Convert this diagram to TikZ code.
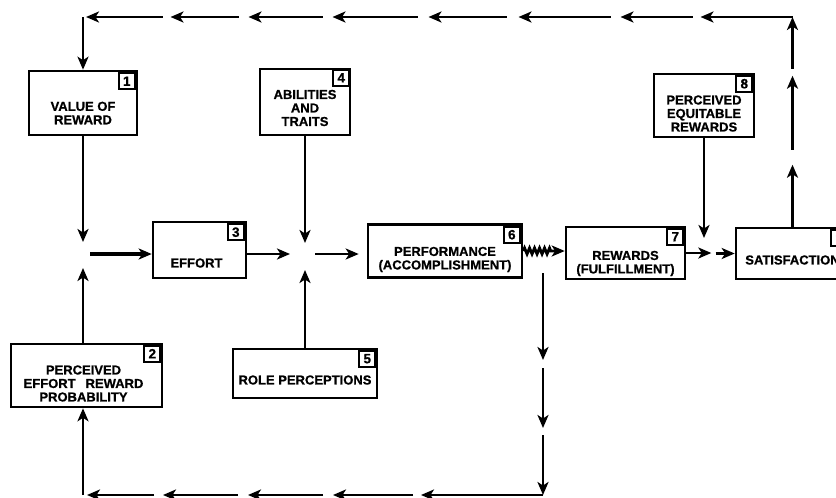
\documentclass[tikz,border=0pt]{standalone}
\usepackage{fontspec}
\setmainfont{Liberation Sans}
\newfontfamily\heavyfont{Liberation Sans}[UprightFont=*-Bold, FakeBold=0.8]
\usetikzlibrary{arrows.meta,positioning,calc,decorations.pathmorphing}

\tikzset{
  box/.style = {draw, line width=2.6pt, inner sep=0pt},
  num/.style = {draw, line width=2pt, inner sep=0pt, minimum width=16pt,
                minimum height=16pt, font=\fontsize{13.5}{13.5}\selectfont\heavyfont},
  lbl/.style = {align=center, inner sep=0pt, font=\fontsize{13}{13.5}\selectfont\heavyfont},
  arr/.style = {line width=2.8pt, -{Stealth[length=13pt,width=11pt,inset=3.5pt]}},
}

\begin{document}
\begin{tikzpicture}[x=1pt, y=-1pt]
	\path[use as bounding box, clip] (0,0) rectangle (836,498);

	% boxes
	\node[box, minimum width=108pt, minimum height=64pt] (b1) at (83,103) {};
	\node[num, below left=2.5pt and 2.5pt of b1.north east] (n1) {1};
	\node[lbl] (t1) at ([yshift=-10pt]b1.center) {VALUE OF\\REWARD};

	\node[box, minimum width=151pt, minimum height=63pt] (b2) at (86.5,375.5) {};
	\node[num, below left=2pt and 2pt of b2.north east] (n2) {2};
	\node[lbl] (t2) at ([xshift=-3pt,yshift=-8pt]b2.center) {PERCEIVED\\EFFORT\hspace{10pt}REWARD\\PROBABILITY};

	\node[box, minimum width=93pt, minimum height=56pt] (b3) at (199.5,250) {};
	\node[num, below left=2.5pt and 2.5pt of b3.north east] (n3) {3};
	\node[lbl] (t3) at ([xshift=-3pt,yshift=-13pt]b3.center) {EFFORT};

	\node[box, minimum width=90pt, minimum height=66pt] (b4) at (305,102) {};
	\node[num, below left=1pt and 1pt of b4.north east] (n4) {4};
	\node[lbl] (t4) at ([yshift=-6pt]b4.center) {ABILITIES\\AND\\TRAITS};

	\node[box, minimum width=144pt, minimum height=49pt] (b5) at (305,373.5) {};
	\node[num, below left=2pt and 2pt of b5.north east] (n5) {5};
	\node[lbl] (t5) at ([yshift=-6.5pt]b5.center) {ROLE PERCEPTIONS};

	\node[box, minimum width=154pt, minimum height=53pt] (b6) at (445,251) {};
	\node[num, below left=2.5pt and 2.5pt of b6.north east] (n6) {6};
	\node[lbl] (t6) at ([yshift=-8.5pt]b6.center) {PERFORMANCE\\(ACCOMPLISHMENT)};

	\node[box, minimum width=119pt, minimum height=52pt] (b7) at (625.5,253) {};
	\node[num, below left=2pt and 2pt of b7.north east] (n7) {7};
	\node[lbl] (t7) at ([yshift=-10.5pt]b7.center) {REWARDS\\(FULFILLMENT)};

	\node[box, minimum width=100pt, minimum height=63pt] (b8) at (704,105.5) {};
	\node[num, below left=2pt and 2pt of b8.north east] (n8) {8};
	\node[lbl] (t8) at ([yshift=-8pt]b8.center) {PERCEIVED\\EQUITABLE\\REWARDS};

	\node[box, minimum width=113pt, minimum height=51pt] (b9) at (792.5,253.5) {};
	\node[num, below left=2pt and 2pt of b9.north east] (n9) {9};
	\node[lbl] (t9) at ([yshift=-6.5pt]b9.center) {SATISFACTION};

	% junctions and corners
	\coordinate (j1) at (83,254);
	\coordinate (j2) at (305,254);
	\coordinate (j3) at (704,256);
	\coordinate (tl) at (b1.north |- 0,17);
	\coordinate (tr) at (b9.north |- tl);
	\coordinate (br) at (543,495);
	\coordinate (bl) at (j1 |- br);

	% main chain
	\draw[arr] (b1.south) -- ([yshift=12pt]j1);
	\draw[arr] (j1 |- b2.north) -- ([yshift=-14pt]j1);
	\draw[arr, line width=3.6pt] ([xshift=7pt]j1) -- (b3.west |- j1);
	\draw[arr] (b3.east |- j2) -- ([xshift=-15pt]j2);
	\draw[arr] (b4.south) -- ([yshift=11pt]j2);
	\draw[arr] (b5.north) -- ([yshift=-16pt]j2);
	\draw[arr] ([xshift=10pt]j2) -- ($(b6.west |- j2)+(-8,0)$);
	\draw[arr, decorate, decoration={zigzag, amplitude=3pt, segment length=5pt, post length=13pt}]
		(b6.east) -- (b6.east -| b7.west);
	\draw[arr] (b7.east) -- ++(25,0);
	\draw[arr] ($(b9.west)+(-19,0)$) -- (b9.west);
	\draw[arr] (b8.south) -- ([yshift=18pt]j3);

	% feedback to value of reward
	\draw[arr] (b9.north) -- ([yshift=62pt]b9.north);
	\draw[arr] ([yshift=77pt]b9.north) -- ([yshift=151pt]b9.north);
	\draw[arr] ([yshift=158pt]b9.north) -- (tr);
	\draw[arr] (tr) -- ([xshift=-92pt]tr);
	\draw[arr] ([xshift=-100pt]tr) -- ([xshift=-172pt]tr);
	\draw[arr] ([xshift=-182pt]tr) -- ([xshift=-274pt]tr);
	\draw[arr] ([xshift=-286pt]tr) -- ([xshift=-364pt]tr);
	\draw[arr] ([xshift=-375pt]tr) -- ([xshift=-460pt]tr);
	\draw[arr] ([xshift=-470pt]tr) -- ([xshift=-544pt]tr);
	\draw[arr] ([xshift=-554pt]tr) -- ([xshift=-622pt]tr);
	\draw[arr] ([xshift=-630pt]tr) -- ([xshift=3pt]tl);
	\draw[arr] (tl) -- (b1.north);

	% feedback to effort-reward probability
	\draw[arr] ([yshift=222pt]br) -- ([yshift=135pt]br);
	\draw[arr] ([yshift=127pt]br) -- ([yshift=67pt]br);
	\draw[arr] ([yshift=60pt]br) -- (br);
	\draw[arr] (br) -- ([xshift=-122pt]br);
	\draw[arr] ([xshift=-130pt]br) -- ([xshift=-210pt]br);
	\draw[arr] ([xshift=-220pt]br) -- ([xshift=-295pt]br);
	\draw[arr] ([xshift=-305pt]br) -- ([xshift=-380pt]br);
	\draw[arr] ([xshift=-389pt]br) -- ([xshift=4pt]bl);
	\draw[arr] (bl) -- (bl |- b2.south);
\end{tikzpicture}
\end{document}
